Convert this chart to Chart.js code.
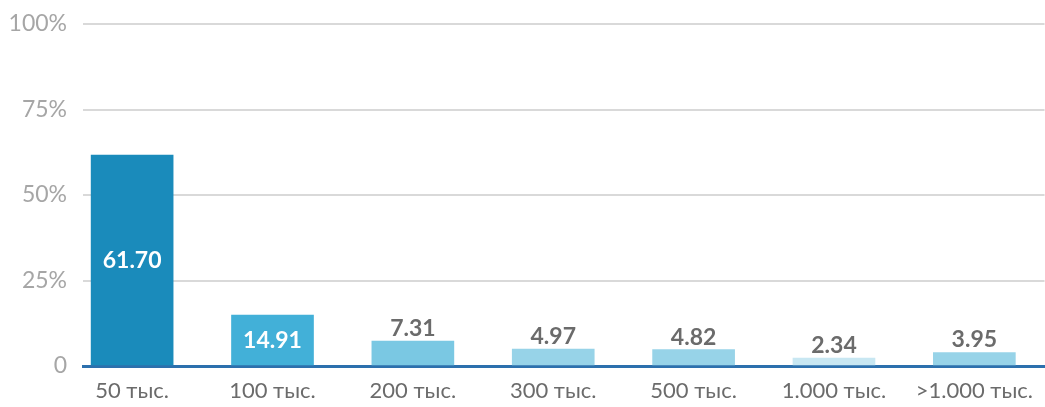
<!DOCTYPE html>
<html>
<head>
<meta charset="utf-8">
<script src="https://cdn.jsdelivr.net/npm/chart.js@4/dist/chart.umd.min.js"></script>
<style>
  html, body { margin: 0; padding: 0; background: #ffffff; }
  #wrap { width: 1045px; height: 407px; }
</style>
</head>
<body>
<div id="wrap"><canvas id="c" width="1045" height="407"></canvas></div>
<script>
// Distribution by amount bracket, percent of total
const categories = ['50 тыс.', '100 тыс.', '200 тыс.', '300 тыс.', '500 тыс.', '1.000 тыс.', '>1.000 тыс.'];
const shares = [61.70, 14.91, 7.31, 4.97, 4.82, 2.34, 3.95];
const barColors = ['#1a8bbb', '#42b0d8', '#7ac8e3', '#97d3e8', '#97d3e8', '#c8e7f2', '#97d3e8'];
const yTicks = [0, 25, 50, 75, 100];

const FONT = 'Lato, "Open Sans", sans-serif';

// Value labels: white inside tall bars, grey above short ones
const valueLabels = {
  id: 'valueLabels',
  afterDatasetsDraw(chart) {
    const ctx = chart.ctx;
    const meta = chart.getDatasetMeta(0);
    ctx.save();
    ctx.font = 'bold 23px ' + FONT;
    ctx.textAlign = 'center';
    meta.data.forEach((bar, i) => {
      const v = shares[i];
      const text = v.toFixed(2);
      const h = bar.base - bar.y;
      if (h > 36) {
        ctx.fillStyle = '#ffffff';
        ctx.textBaseline = 'middle';
        ctx.fillText(text, bar.x, (bar.y + bar.base) / 2 + 1);
      } else {
        ctx.fillStyle = '#6b6b6b';
        ctx.textBaseline = 'alphabetic';
        ctx.fillText(text, bar.x, bar.y - 5);
      }
    });
    ctx.restore();
  }
};

new Chart(document.getElementById('c'), {
  type: 'bar',
  data: {
    datasets: [{
      data: shares.map((v, i) => ({ x: i, y: v })),
      backgroundColor: barColors,
      borderWidth: 0,
      barThickness: 82
    }]
  },
  options: {
    responsive: false,
    animation: false,
    layout: { padding: 0 },
    plugins: { legend: { display: false }, tooltip: { enabled: false } },
    scales: {
      x: {
        type: 'linear',
        offset: false,
        min: -0.35,
        max: 6.5,
        afterBuildTicks: s => { s.ticks = categories.map((_, i) => ({ value: i })); },
        afterFit: s => { s.height = 41; },
        grid: { display: false, drawTicks: false, offset: false },
        border: { display: true, color: '#2c70ad', width: 3 },
        ticks: {
          autoSkip: false,
          maxRotation: 0,
          padding: 12,
          color: '#6b6b6b',
          font: { family: FONT, size: 22 },
          callback: v => categories[v]
        }
      },
      y: {
        min: 0,
        max: 100,
        afterBuildTicks: s => { s.ticks = yTicks.map(v => ({ value: v })); },
        afterFit: s => { s.width = 83; s.paddingTop = 24; },
        grid: {
          color: c => (c.tick && c.tick.value === 0) ? 'rgba(0,0,0,0)' : '#d9d9d9',
          lineWidth: 2,
          drawTicks: false
        },
        border: { display: false },
        ticks: {
          padding: 16,
          color: '#a6a6a6',
          font: { family: FONT, size: 23 },
          callback: v => v === 0 ? '0' : v + '%'
        }
      }
    }
  },
  plugins: [valueLabels]
});
</script>
</body>
</html>
